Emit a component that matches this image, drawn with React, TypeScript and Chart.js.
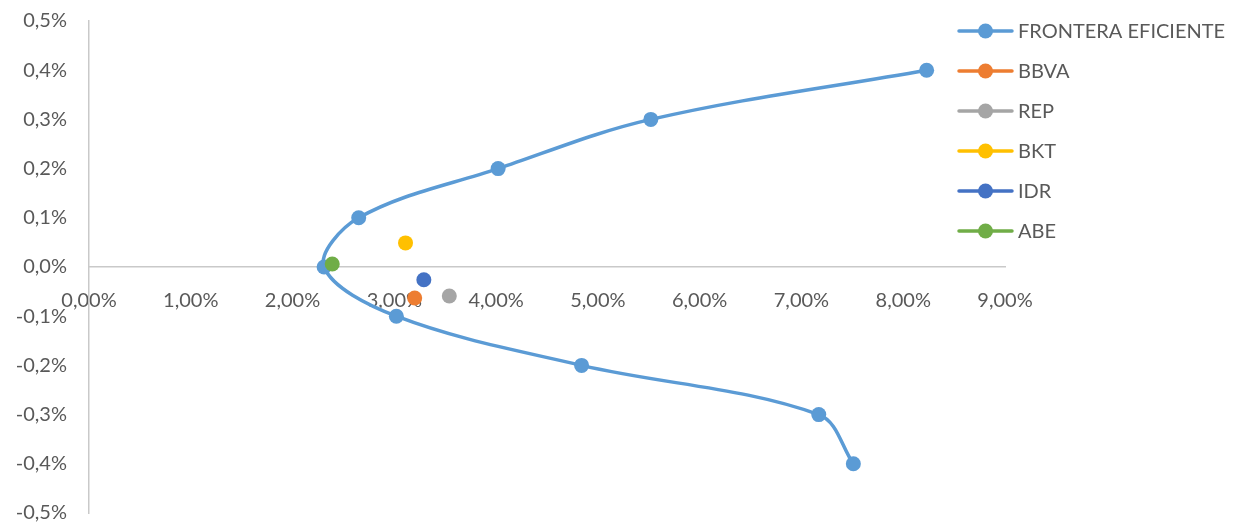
import React, { useEffect, useRef } from "react";
import { Chart, registerables } from "chart.js";

Chart.register(...registerables);

// Frontera eficiente: riesgo (x, %) y rentabilidad (y, %)
const frontierRisk = [7.51, 7.17, 4.84, 3.02, 2.31, 2.65, 4.02, 5.52, 8.23];
const frontierReturn = [-0.4, -0.3, -0.2, -0.1, 0.0, 0.1, 0.2, 0.3, 0.4];

const assetNames = ["BBVA", "REP", "BKT", "IDR", "ABE"];
const assetRisk = [3.2, 3.54, 3.11, 3.29, 2.39];
const assetReturn = [-0.063, -0.059, 0.049, -0.026, 0.006];
const assetColors = ["#ED7D31", "#A5A5A5", "#FFC000", "#4472C4", "#70AD47"];

const frontierLabel = "FRONTERA EFICIENTE";
const frontierColor = "#5B9BD5";

const xMin = 0;
const xMax = 9;
const yMin = -0.5;
const yMax = 0.5;

const FONT = "Lato, 'Open Sans', sans-serif";
const FONT_SIZE = 20;
const TEXT = "#595959";
const AXIS = "#C9C9C9";

const fmt = (v: number, d: number) => v.toFixed(d).replace(".", ",") + "%";

const sideLegend = {
  id: "sideLegend",
  afterDraw(chart: any) {
    const ctx = chart.ctx;
    const x0 = 959;
    const y0 = 31;
    const step = 40;
    ctx.save();
    chart.data.datasets.forEach((ds: any, i: number) => {
      const y = y0 + i * step;
      const c = ds.borderColor;
      ctx.strokeStyle = c;
      ctx.lineWidth = 3.5;
      ctx.lineCap = "round";
      ctx.beginPath();
      ctx.moveTo(x0, y);
      ctx.lineTo(x0 + 53, y);
      ctx.stroke();
      ctx.fillStyle = ds.pointBackgroundColor;
      ctx.beginPath();
      ctx.arc(x0 + 26.5, y, 7.5, 0, Math.PI * 2);
      ctx.fill();
      ctx.fillStyle = TEXT;
      ctx.font = `${FONT_SIZE}px ${FONT}`;
      ctx.textBaseline = "middle";
      ctx.textAlign = "left";
      ctx.fillText(ds.label, x0 + 59, y + 1);
    });
    ctx.restore();
  },
};

export default function App() {
  const ref = useRef<HTMLCanvasElement | null>(null);

  useEffect(() => {
    if (!ref.current) return;
    const datasets: any[] = [
      {
        label: frontierLabel,
        data: frontierRisk.map((x, i) => ({ x, y: frontierReturn[i] })),
        showLine: true,
        borderColor: frontierColor,
        backgroundColor: frontierColor,
        pointBackgroundColor: frontierColor,
        pointBorderColor: frontierColor,
        borderWidth: 3.5,
        pointRadius: 7.5,
        pointBorderWidth: 0,
        tension: 0.35,
        order: 10,
      },
      ...assetNames.map((name, i) => ({
        label: name,
        data: [{ x: assetRisk[i], y: assetReturn[i] }],
        showLine: false,
        borderColor: assetColors[i],
        backgroundColor: assetColors[i],
        pointBackgroundColor: assetColors[i],
        pointBorderColor: assetColors[i],
        pointRadius: 7.5,
        pointBorderWidth: 0,
        order: 5 - i,
      })),
    ];

    const chart = new Chart(ref.current, {
      type: "scatter",
      data: { datasets },
      plugins: [sideLegend],
      options: {
        animation: false,
        responsive: true,
        maintainAspectRatio: false,
        layout: { padding: { left: 0, right: 237, top: 21, bottom: 13 } },
        plugins: {
          legend: { display: false },
          tooltip: { enabled: false },
        },
        scales: {
          x: {
            type: "linear",
            position: { y: 0 } as any,
            min: xMin,
            max: xMax,
            z: 1,
            grid: { display: false, drawTicks: false },
            border: { display: true, color: AXIS, width: 1.5 },
            ticks: {
              stepSize: 1,
              padding: 22,
              color: TEXT,
              font: { family: FONT, size: FONT_SIZE },
              maxRotation: 0,
              callback: (v: any) => fmt(Number(v), 2),
            },
          },
          y: {
            type: "linear",
            position: "left",
            min: yMin,
            max: yMax,
            grid: { display: false, drawTicks: false },
            border: { display: true, color: AXIS, width: 1.5 },
            afterFit: (scale: any) => {
              scale.width = 89;
              scale.paddingTop = 0;
              scale.paddingBottom = 0;
            },
            ticks: {
              stepSize: 0.1,
              padding: 22,
              color: TEXT,
              font: { family: FONT, size: FONT_SIZE },
              callback: (v: any) => fmt(Number(v), 1),
            },
          },
        },
      },
    });
    return () => chart.destroy();
  }, []);

  return (
    <div style={{ position: "fixed", left: 0, top: 0, width: 1242, height: 526, background: "#fff" }}>
      <canvas ref={ref} />
    </div>
  );
}
